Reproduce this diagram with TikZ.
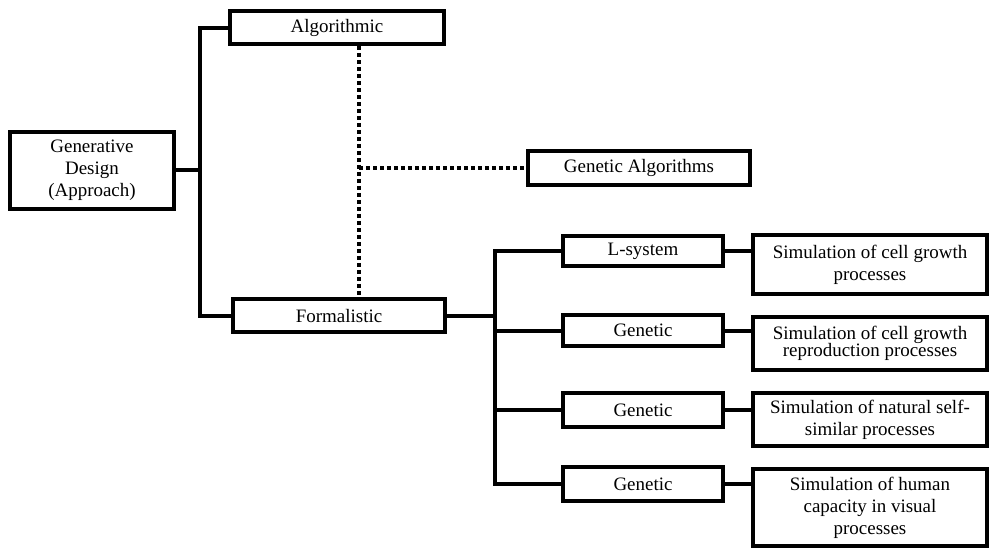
\documentclass[tikz,border=0pt]{standalone}
\usepackage{fontspec}
\setmainfont{Liberation Serif}
\begin{document}
\begin{tikzpicture}[x=0.02cm,y=-0.02cm,
  box/.style 2 args={draw=black, line width=0.08cm, fill=white, inner sep=0pt,
    minimum width=#1*0.02cm, minimum height=#2*0.02cm, align=center,
    font=\fontsize{10.8}{12.5}\selectfont},
  link/.style={line width=0.08cm, line cap=rect},
  dots/.style={line width=0.08cm, dash pattern=on 0.08cm off 0.06cm}]
\useasboundingbox (0,0) rectangle (990,549);

% main approach and its two branches
\node[box={164}{77}] (gen) at (92,170) {Generative\\Design\\(Approach)};
\node[box={214}{33}] (alg) at (337,27.5) {Algorithmic};
\node[box={212}{33}] (form) at (339,315.5) {Formalistic};
\node[box={222}{34}] (ga) at (639,168) {Genetic Algorithms};

% formalistic methods
\node[box={160}{30}] (ls) at (643,251) {L-system};
\node[box={160}{31}] (g2) at (643,330.5) {Genetic};
\node[box={160}{34}] (g3) at (643,410) {Genetic};
\node[box={160}{34}] (g4) at (643,484) {Genetic};

% simulated processes
\node[box={234}{59}] (s1) at (870,264.5) {Simulation of cell growth\\processes};
\node[box={234}{53}, font=\fontsize{10.8}{10}\selectfont] (s2) at (870,343.5) {Simulation of cell growth\\reproduction processes};
\node[box={234}{53}] (s3) at (870,419.5) {Simulation of natural self-\\similar processes};
\node[box={234}{77}] (s4) at (870,507.5) {Simulation of human\\capacity in visual\\processes};

% trunk from the approach to its branches
\coordinate (trunk) at (200,170);
\draw[link] (gen.east) -- (trunk);
\draw[link] (alg.west) -| (trunk) |- (form.west);

% dotted link between the branches and genetic algorithms
\coordinate (dx) at (359,168);
\draw[dots] (alg.south -| dx) -- (form.north -| dx);
\draw[dots] (dx) -- (ga.west);

% bus from formalistic to its methods
\coordinate (bus) at (495,315.5);
\draw[link] (form.east) -- (bus);
\draw[link] (ls.west) -| (bus) |- (g4.west);
\draw[link] (bus |- g2.west) -- (g2.west);
\draw[link] (bus |- g3.west) -- (g3.west);

% methods to simulated processes
\draw[link] (ls.east) -- (ls.east -| s1.west);
\draw[link] (g2.east) -- (g2.east -| s2.west);
\draw[link] (g3.east) -- (g3.east -| s3.west);
\draw[link] (g4.east) -- (g4.east -| s4.west);
\end{tikzpicture}
\end{document}
